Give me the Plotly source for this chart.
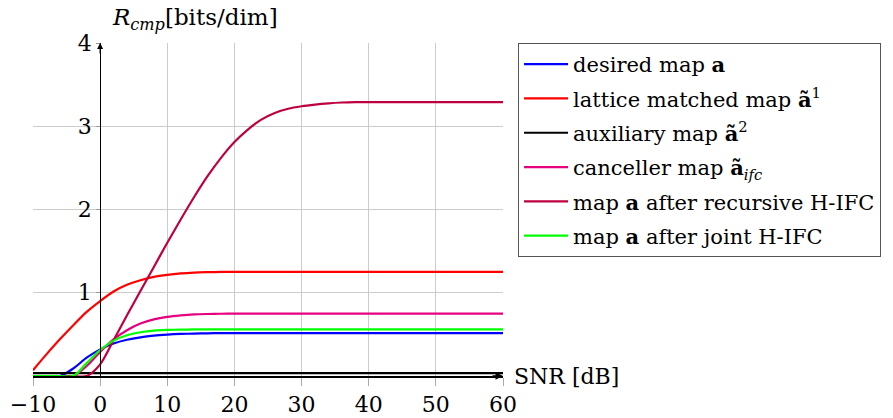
import plotly.graph_objects as go

# Common SNR grid (dB), 2 dB steps
snr_db = [-10, -8, -6, -4, -2, 0, 2, 4, 6, 8, 10, 12, 14, 16, 18, 20, 22, 24, 26, 28, 30,
          32, 34, 36, 38, 40, 42, 44, 46, 48, 50, 52, 54, 56, 58, 60]

# Computation rates (bits/dim) for each map on that grid
rate_desired = [0, 0, 0, 0.09, 0.22, 0.32, 0.39, 0.435, 0.465, 0.485, 0.497, 0.505, 0.51, 0.513, 0.515,
                0.515, 0.515, 0.515, 0.515, 0.515, 0.515, 0.515, 0.515, 0.515, 0.515, 0.515, 0.515, 0.515,
                0.515, 0.515, 0.515, 0.515, 0.515, 0.515, 0.515, 0.515]

rate_lattice = [0.07, 0.26, 0.44, 0.61, 0.77, 0.90, 1.015, 1.095, 1.15, 1.19, 1.215, 1.232, 1.242, 1.247,
                1.25, 1.25, 1.25, 1.25, 1.25, 1.25, 1.25, 1.25, 1.25, 1.25, 1.25, 1.25, 1.25, 1.25, 1.25,
                1.25, 1.25, 1.25, 1.25, 1.25, 1.25, 1.25]

rate_aux = [0.034] * 36

rate_ifc = [0, 0, 0, 0, 0.12, 0.29, 0.44, 0.55, 0.63, 0.68, 0.71, 0.728, 0.74, 0.745, 0.748, 0.75, 0.75,
            0.75, 0.75, 0.75, 0.75, 0.75, 0.75, 0.75, 0.75, 0.75, 0.75, 0.75, 0.75, 0.75, 0.75, 0.75, 0.75,
            0.75, 0.75, 0.75]

rate_recursive = [0, 0, 0, 0, 0, 0.14, 0.43, 0.73, 1.02, 1.31, 1.60, 1.88, 2.15, 2.40, 2.62, 2.81, 2.96,
                  3.08, 3.16, 3.21, 3.24, 3.26, 3.275, 3.285, 3.29, 3.29, 3.29, 3.29, 3.29, 3.29, 3.29,
                  3.29, 3.29, 3.29, 3.29, 3.29]

rate_joint = [0, 0, 0, 0, 0.155, 0.31, 0.425, 0.49, 0.525, 0.545, 0.553, 0.557, 0.559, 0.56, 0.56, 0.56,
              0.56, 0.56, 0.56, 0.56, 0.56, 0.56, 0.56, 0.56, 0.56, 0.56, 0.56, 0.56, 0.56, 0.56, 0.56,
              0.56, 0.56, 0.56, 0.56, 0.56]

x_ticks = [-10, 0, 10, 20, 30, 40, 50, 60]
y_ticks = [1, 2, 3, 4]

FONT = "DejaVu Serif"

series = [
    ("desired map <b>a</b>", rate_desired, "#0000ff"),
    ("lattice matched map <b>ã</b><sup>1</sup>", rate_lattice, "#ff0000"),
    ("auxiliary map <b>ã</b><sup>2</sup>", rate_aux, "#000000"),
    ("canceller map <b>ã</b><sub><i>ifc</i></sub>", rate_ifc, "#e6007e"),
    ("map <b>a</b> after recursive H-IFC", rate_recursive, "#bf0040"),
    ("map <b>a</b> after joint H-IFC", rate_joint, "#00ff00"),
]

fig = go.Figure()
for i, (name, ys, color) in enumerate(series):
    fig.add_trace(go.Scatter(
        x=snr_db, y=ys, name=name, mode="lines", legendgroup=f"g{i}",
        line=dict(color=color, width=2.2, shape="spline", smoothing=0.8),
    ))

fig.update_layout(
    width=893, height=418,
    margin=dict(l=33, r=390, t=43, b=42, autoexpand=False),
    plot_bgcolor="white", paper_bgcolor="white",
    font=dict(family=FONT, size=21, color="black"),
    legend=dict(
        x=1.032, y=1.0, xanchor="left", yanchor="top",
        bordercolor="#555555", borderwidth=1,
        font=dict(family=FONT, size=21),
        tracegroupgap=4, itemwidth=44,
    ),
    xaxis=dict(
        range=[-10, 60], tickvals=x_ticks, automargin=False,
        showgrid=True, gridcolor="#cccccc", gridwidth=1,
        showline=True, linecolor="black", linewidth=1.5,
        zeroline=False, ticks="outside", ticklen=8, tickcolor="#aaaaaa",
        tickfont=dict(family=FONT, size=22),
    ),
    yaxis=dict(
        range=[0, 4], tickvals=y_ticks, automargin=False,
        showgrid=True, gridcolor="#cccccc", gridwidth=1,
        anchor="free", position=1 / 7,
        showline=True, linecolor="black", linewidth=1.2,
        zeroline=False, ticks="outside", ticklen=4, tickcolor="#999999",
        tickfont=dict(family=FONT, size=22),
    ),
)

# arrowheads at the ends of both axes
fig.add_annotation(x=0, y=4, xref="x", yref="y", ax=0, ay=12, text="",
                   showarrow=True, arrowhead=2, arrowsize=1, arrowwidth=1.2, arrowcolor="black")
fig.add_annotation(x=60, y=0, xref="x", yref="y", ax=-12, ay=0, text="",
                   showarrow=True, arrowhead=2, arrowsize=1, arrowwidth=1.5, arrowcolor="black")

# axis titles next to the axis ends
fig.add_annotation(x=0, y=4, xref="x", yref="y", xshift=10, yshift=24,
                   text="<i>R</i><sub><i>cmp</i></sub>[bits/dim]", showarrow=False,
                   xanchor="left", yanchor="middle", font=dict(family=FONT, size=23))
fig.add_annotation(x=60, y=0, xref="x", yref="y", xshift=9,
                   text="SNR [dB]", showarrow=False,
                   xanchor="left", yanchor="middle", font=dict(family=FONT, size=22))

fig.write_html("out.html")
